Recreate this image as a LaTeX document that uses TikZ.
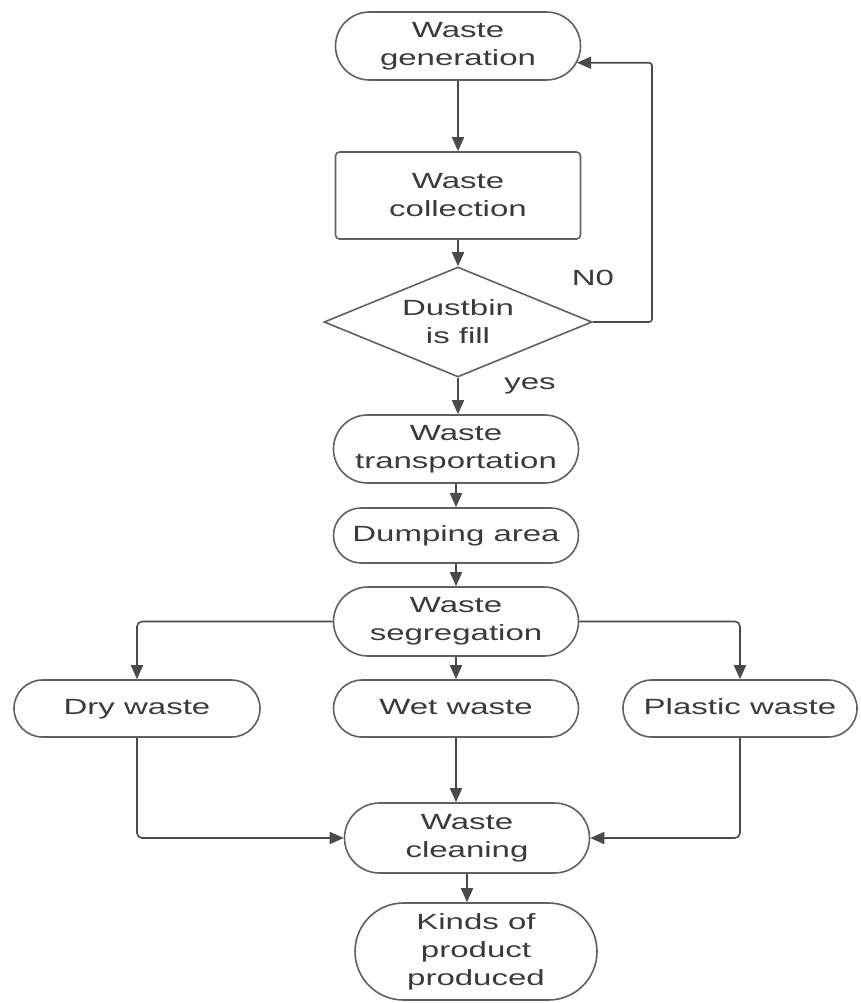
\documentclass[tikz,border=0pt]{standalone}
\usepackage{fontspec}
\setmainfont{Liberation Sans}[FakeStretch=1.5]
\usetikzlibrary{shapes.misc,shapes.geometric,arrows.meta}
\definecolor{ln}{HTML}{4A4A4A}
\definecolor{bd}{HTML}{606060}
\definecolor{tx}{HTML}{3A3A3A}
\tikzset{
  x=1pt,y=-1pt,
  every node/.style={text=tx,font=\fontsize{22}{28}\selectfont,align=center,inner sep=0pt},
  pill/.style={draw=bd,line width=1.6pt,rounded rectangle,minimum width=245pt,minimum height=68pt},
  oneline/.style={text height=16pt,text depth=5pt},
  boxnode/.style={draw=bd,line width=1.6pt,rectangle,rounded corners=4pt,minimum width=245pt,minimum height=87pt},
  decide/.style={draw=bd,line width=1.6pt,diamond,shape aspect=2.44,minimum width=268pt,minimum height=110pt},
  arr/.style={draw=ln,line width=1.6pt,-{Triangle[length=14pt,width=12pt]}},
  lbl/.style={}
}
\begin{document}
\begin{tikzpicture}
\useasboundingbox (0,0) rectangle (861,1003);
\node[pill] (gen) at (458,46) {Waste\\generation};
\node[boxnode] (coll) at (458,195.5) {Waste\\collection};
\node[decide] (dia) at (458,322) {Dustbin\\is fill};
\node[pill] (trans) at (456,449) {Waste\\transportation};
\node[pill,oneline,minimum height=55pt] (dump) at (456,535.5) {Dumping area};
\node[pill,minimum height=69pt] (seg) at (456,621.5) {Waste\\segregation};
\node[pill,oneline,minimum height=57pt,minimum width=246pt] (dry) at (137,708.5) {Dry waste};
\node[pill,oneline,minimum height=57pt] (wet) at (456,708.5) {Wet waste};
\node[pill,oneline,minimum height=57pt,minimum width=234pt] (plas) at (740,708.5) {Plastic waste};
\node[pill,minimum height=70pt] (clean) at (467,838) {Waste\\cleaning};
\node[pill,minimum height=97pt,minimum width=242pt] (kinds) at (476,951.5) {Kinds of\\product\\produced};
\node[lbl] (no) at (593,278) {N0};
\node[lbl] (yes) at (530,386) {yes};
\coordinate (loopc) at (652,322);

\draw[arr] (gen.south) -- (gen.south |- coll.north);
\draw[arr] (coll.south) -- (coll.south |- dia.north);
\draw[arr,rounded corners=3pt] (dia.east) -- (loopc) |- (gen.-8.2);
\draw[arr] (dia.south) -- (dia.south |- trans.north);
\draw[arr] (trans.south) -- (trans.south |- dump.north);
\draw[arr] (dump.south) -- (dump.south |- seg.north);
\draw[arr] (seg.south) -- (seg.south |- wet.north);
\draw[arr,rounded corners=5pt] (seg.west) -| (dry.north);
\draw[arr,rounded corners=5pt] (seg.east) -| (plas.north);
\draw[arr,rounded corners=5pt] (dry.south) |- (clean.west);
\draw[arr,rounded corners=5pt] (plas.south) |- (clean.east);
\draw[arr] (wet.south) -- (wet.south |- clean.north);
\draw[arr] (clean.south) -- (clean.south |- kinds.north);
\end{tikzpicture}
\end{document}
